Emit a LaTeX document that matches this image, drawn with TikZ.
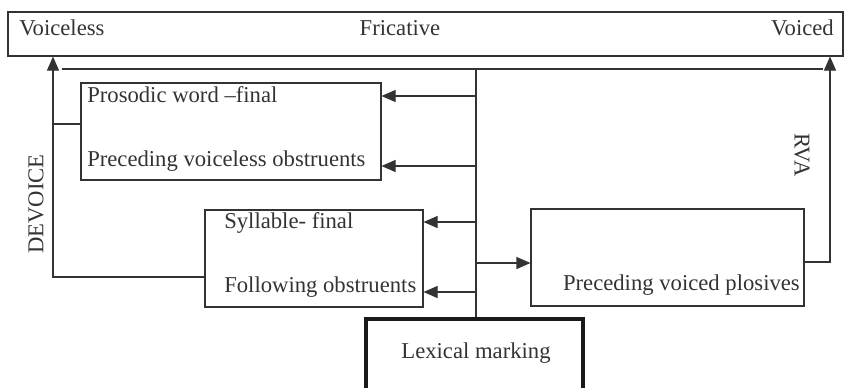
\documentclass[tikz,border=0pt]{standalone}
\usepackage{fontspec}
\setmainfont{Liberation Serif}
\usetikzlibrary{arrows.meta,fit}
\begin{document}
\begin{tikzpicture}[x=0.75pt,y=-0.75pt,
  line/.style={draw=black!80,line width=0.8pt},
  box/.style={line,inner sep=0pt},
  thickbox/.style={draw=black!90,line width=2.3pt,inner sep=0pt},
  arr/.style={line,-{Triangle[length=10.5pt,width=9pt]}},
  lbl/.style={inner sep=0pt,font=\fontsize{17}{20}\selectfont,text=black!80}]
\useasboundingbox (0,0) rectangle (845,387);
\clip (0,0) rectangle (845,387);
% boxes
\node[box,fit={(8,12) (843,56)}] (top) {};
\node[box,fit={(81,83) (381,180)}] (pw) {};
\node[box,fit={(205,210) (423,307)}] (sf) {};
\node[box,fit={(531,209) (804,306)}] (pv) {};
\node[thickbox,fit={(366,319) (583,420)}] (lex) {};
% texts
\node[lbl,anchor=base west] (tvl) at (19,35) {Voiceless};
\node[lbl,anchor=base] (tfr) at (400,35) {Fricative};
\node[lbl,anchor=base east] (tvd) at (834,35) {Voiced};
\node[lbl,anchor=base west] (t1) at (87,102) {Prosodic word –final};
\node[lbl,anchor=base west] (t2) at (87,166) {Preceding voiceless obstruents};
\node[lbl,anchor=base west] (t3) at (224,228) {Syllable- final};
\node[lbl,anchor=base west] (t4) at (224,292) {Following obstruents};
\node[lbl,anchor=base east] (t5) at (800,290) {Preceding voiced plosives};
\node[lbl,anchor=base] (t6) at (476,358) {Lexical marking};
\node[lbl,rotate=90] (dev) at (36,204) {DEVOICE};
\node[lbl,rotate=-90] (rva) at (802,155) {RVA};
% spine
\coordinate (sp) at (476,69);
\coordinate (hl) at (62,69);
\coordinate (hr) at (823,69);
\coordinate (lx) at (53,0);
\coordinate (rx) at (830,0);
\draw[line] (hl) -- (hr);
\draw[line] (sp) -- (sp |- lex.north);
% arrows from spine
\draw[arr] (sp |- 0,96) -- (pw.east |- 0,96);
\draw[arr] (sp |- 0,166) -- (pw.east |- 0,166);
\draw[arr] (sp |- 0,222) -- (sf.east |- 0,222);
\draw[arr] (sp |- 0,292) -- (sf.east |- 0,292);
\draw[arr] (sp |- 0,263) -- (pv.west |- 0,263);
% left DEVOICE path
\draw[arr] (sf.west |- 0,277) -- (lx |- 0,277) -- (lx |- top.south);
\draw[line] (pw.west |- 0,124) -- (lx |- 0,124);
% right RVA path
\draw[arr] (pv.east |- 0,262) -- (rx |- 0,262) -- (rx |- top.south);
\end{tikzpicture}
\end{document}
